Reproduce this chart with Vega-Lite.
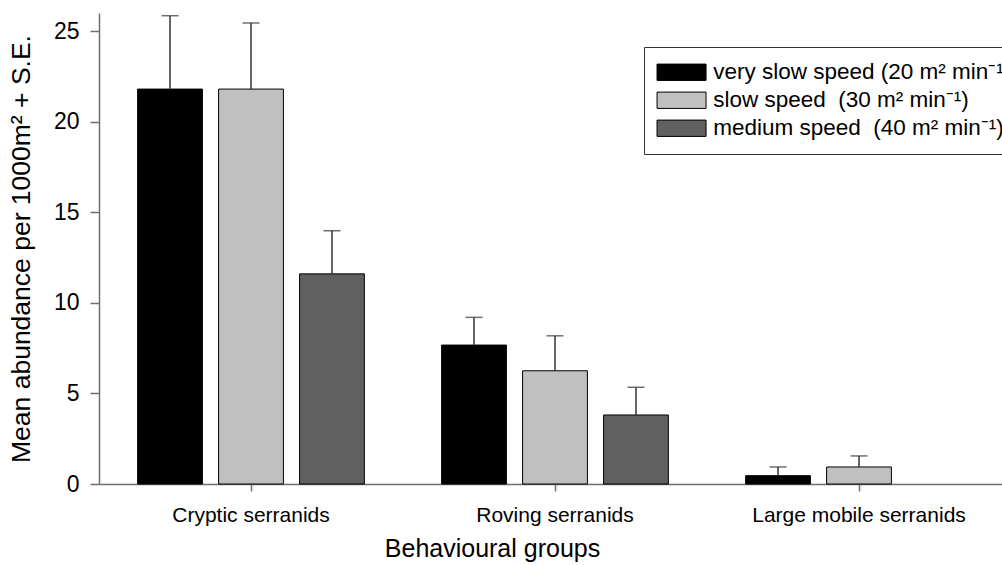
{
  "$schema": "https://vega.github.io/schema/vega-lite/v6.json",
  "autosize": "none",
  "width": 912,
  "height": 471,
  "padding": {"left": 99, "top": 13, "right": 0, "bottom": 81},
  "background": "white",
  "config": {
    "font": "Liberation Sans",
    "view": {"stroke": null},
    "axis": {
      "grid": false,
      "domainColor": "#6e6e6e",
      "domainWidth": 1.5,
      "tickColor": "#6e6e6e",
      "tickWidth": 1.5,
      "labelColor": "black",
      "titleColor": "black",
      "labelFont": "Liberation Sans",
      "titleFont": "Liberation Sans",
      "titleFontWeight": "normal"
    }
  },
  "data": {
    "values": [
      {"group": "Cryptic serranids", "speed": "very slow", "mean": 21.8, "upper": 25.85},
      {"group": "Cryptic serranids", "speed": "slow", "mean": 21.8, "upper": 25.45},
      {"group": "Cryptic serranids", "speed": "medium", "mean": 11.6, "upper": 13.98},
      {"group": "Roving serranids", "speed": "very slow", "mean": 7.67, "upper": 9.2},
      {"group": "Roving serranids", "speed": "slow", "mean": 6.25, "upper": 8.18},
      {"group": "Roving serranids", "speed": "medium", "mean": 3.81, "upper": 5.34},
      {"group": "Large mobile serranids", "speed": "very slow", "mean": 0.46, "upper": 0.94},
      {"group": "Large mobile serranids", "speed": "slow", "mean": 0.94, "upper": 1.55},
      {"group": "Large mobile serranids", "speed": "medium", "mean": 0, "upper": 0}
    ]
  },
  "encoding": {
    "x": {
      "field": "group",
      "type": "nominal",
      "sort": ["Cryptic serranids", "Roving serranids", "Large mobile serranids"],
      "scale": {"paddingInner": 0, "paddingOuter": 0},
      "axis": {
        "title": "Behavioural groups",
        "titleFontSize": 25,
        "titlePadding": 11,
        "titleX": 393,
        "titleAlign": "center",
        "labelAngle": 0,
        "labelFontSize": 21,
        "labelPadding": 13,
        "labelLimit": 400,
        "tickSize": 7
      }
    },
    "xOffset": {
      "field": "speed",
      "type": "nominal",
      "sort": ["very slow", "slow", "medium"],
      "scale": {"paddingInner": 0.2, "paddingOuter": 0.477}
    }
  },
  "layer": [
    {
      "transform": [{"filter": "datum.mean > 0"}],
      "mark": {"type": "bar", "stroke": "black", "strokeWidth": 1},
      "encoding": {
        "y": {
          "field": "mean",
          "type": "quantitative",
          "scale": {"domain": [0, 26], "nice": false, "zero": true},
          "axis": {
            "title": "Mean abundance per 1000m² + S.E.",
            "titleFontSize": 26.5,
            "titlePadding": 18,
            "values": [0, 5, 10, 15, 20, 25],
            "labelFontSize": 23,
            "labelPadding": 11,
            "tickSize": 9
          }
        },
        "fill": {
          "field": "speed",
          "type": "nominal",
          "scale": {
            "domain": ["very slow", "slow", "medium"],
            "range": ["#000000", "#c0c0c0", "#606060"]
          },
          "legend": {
            "orient": "none",
            "legendX": 545,
            "legendY": 34,
            "title": null,
            "strokeColor": "#333333",
            "fillColor": "white",
            "padding": 14,
            "symbolOffset": 12.3,
            "rowPadding": 5,
            "symbolType": "M-3,-1H3V1H-3Z",
            "symbolSize": 267,
            "symbolStrokeColor": "black",
            "symbolStrokeWidth": 1,
            "symbolOpacity": 1,
            "labelFont": "Liberation Sans",
            "labelFontSize": 22.5,
            "labelColor": "black",
            "labelOffset": 20.4,
            "labelLimit": 400,
            "labelExpr": "datum.label == 'very slow' ? 'very slow speed (20 m² min⁻¹)' : datum.label == 'slow' ? 'slow speed \u00a0(30 m² min⁻¹)' : 'medium speed \u00a0(40 m² min⁻¹)'"
          }
        }
      }
    },
    {
      "transform": [{"filter": "datum.upper > datum.mean"}],
      "mark": {"type": "rule", "color": "#333333", "strokeWidth": 1.5},
      "encoding": {
        "y": {"field": "mean", "type": "quantitative"},
        "y2": {"field": "upper"}
      }
    },
    {
      "transform": [{"filter": "datum.upper > datum.mean"}],
      "mark": {"type": "tick", "orient": "horizontal", "color": "#333333", "size": 17, "thickness": 1.5},
      "encoding": {
        "y": {"field": "upper", "type": "quantitative"}
      }
    }
  ]
}
